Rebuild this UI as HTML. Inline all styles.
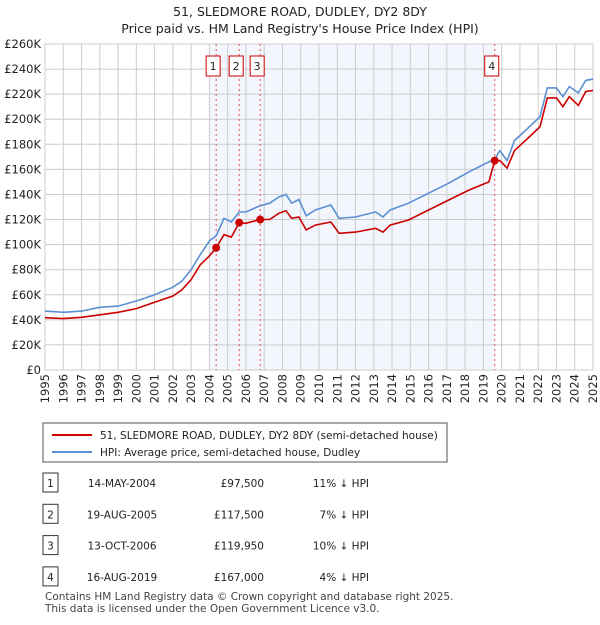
<!DOCTYPE html>
<html><head><meta charset="utf-8"><style>
body{margin:0;background:#fff;font-family:"Liberation Sans","DejaVu Sans",sans-serif;}
svg text{font-family:"DejaVu Sans","Liberation Sans",sans-serif;}
</style></head><body>
<svg width="600" height="620" xmlns="http://www.w3.org/2000/svg">
<text x="300" y="16" text-anchor="middle" font-size="12.5" fill="#222">51, SLEDMORE ROAD, DUDLEY, DY2 8DY</text>
<text x="300" y="33" text-anchor="middle" font-size="12.5" fill="#222">Price paid vs. HM Land Registry's House Price Index (HPI)</text>
<g id="plot"></g>
<g id="legend">
<rect x="43" y="423" width="404" height="39" fill="#fff" stroke="#555"/>
<line x1="52" y1="435" x2="92" y2="435" stroke="#cc0000" stroke-width="2"/>
<text x="100" y="439" font-size="10.5" fill="#222">51, SLEDMORE ROAD, DUDLEY, DY2 8DY (semi-detached house)</text>
<line x1="52" y1="452" x2="92" y2="452" stroke="#5b8fd4" stroke-width="2"/>
<text x="100" y="456" font-size="10.5" fill="#222">HPI: Average price, semi-detached house, Dudley</text>
</g>
<g id="table" font-size="10.5" fill="#222"></g>
<text x="45" y="600" font-size="10.5" fill="#444">Contains HM Land Registry data © Crown copyright and database right 2025.</text>
<text x="45" y="612" font-size="10.5" fill="#444">This data is licensed under the Open Government Licence v3.0.</text>
</svg>
<script>
const hpiYears=[1995,1996,1997,1998,1999,2000,2001,2002,2002.5,2003,2003.5,2004,2004.37,2004.8,2005.2,2005.63,2006,2006.78,2007.3,2007.8,2008.2,2008.5,2008.9,2009.3,2009.8,2010.65,2011.1,2012.0,2013.1,2013.5,2013.9,2014.9,2016.0,2017.1,2018.2,2019.3,2019.62,2019.9,2020.3,2020.7,2021.3,2022.1,2022.5,2023.0,2023.35,2023.7,2024.2,2024.6,2025.0];
const hpiValues=[47,46,47,50,51,55,60,66,71,80,92,103,107,121,118,126,126,131,133,138,140,133,136,123,127.6,131.6,121,122,126,122,127.6,133,141,149,158,166,168,175,167,183,191,202,225,225,218,226,221,231,232];
const priceValues=[41.7,41,42,44,46,49,54,59,64,72,84,91,97.5,108,106,117.5,117,120,120,125,127,121,122,111.7,115.6,118,109,110,113,110,115.6,119.6,127.6,135.6,143.5,150,167,167,161,175,183,194,217,217,210,218,211,222,223];
const saleLabels=["1","2","3","4"];
const saleYears=[2004.37,2005.63,2006.78,2019.62];
const salePrices=[97.5,117.5,119.95,167];
const saleDates=["14-MAY-2004","19-AUG-2005","13-OCT-2006","16-AUG-2019"];
const salePriceText=["£97,500","£117,500","£119,950","£167,000"];
const saleDiff=["11% ↓ HPI","7% ↓ HPI","10% ↓ HPI","4% ↓ HPI"];
const yTicks=[0,20,40,60,80,100,120,140,160,180,200,220,240,260];
const xTicks=[1995,1996,1997,1998,1999,2000,2001,2002,2003,2004,2005,2006,2007,2008,2009,2010,2011,2012,2013,2014,2015,2016,2017,2018,2019,2020,2021,2022,2023,2024,2025];
const L=45,R=593,T=44,B=370;
const xs=y=>L+(y-1995)/30*(R-L);
const ys=v=>B-v/260*(B-T);
const NS="http://www.w3.org/2000/svg";
const plot=document.getElementById('plot');
function mk(tag,attrs,parent){const e=document.createElementNS(NS,tag);for(const k in attrs)e.setAttribute(k,attrs[k]);(parent||plot).appendChild(e);return e;}
mk('rect',{x:L,y:T,width:R-L,height:B-T,fill:'#fff',stroke:'#ccc'});
const sh=mk('rect',{x:xs(2004),y:T,width:xs(saleYears[3])-xs(2004),height:B-T,fill:'#eef3fc',opacity:0.7});


yTicks.forEach(v=>{
 mk('line',{x1:L,x2:R,y1:ys(v),y2:ys(v),stroke:'#ccc'});
 const t=mk('text',{x:L-4,y:ys(v)+4,'text-anchor':'end','font-size':11.5,fill:'#222'});t.textContent=v==0?'£0':'£'+v+'K';
 
 
});
xTicks.forEach(yr=>{
 mk('line',{x1:xs(yr),x2:xs(yr),y1:T,y2:B,stroke:'#ccc'});
 const t=mk('text',{x:0,y:0,'text-anchor':'end','font-size':11.5,fill:'#222',transform:`translate(${xs(yr)+4},${B+4}) rotate(-90)`});t.textContent=yr;
 
 
});
saleYears.forEach((yr,i)=>{
 const l=mk('line',{x1:xs(yr),x2:xs(yr),y1:T,y2:B,stroke:'#e05050','stroke-dasharray':'2,3'});
 
 
 const bx=xs(yr)-3;
 const r=mk('rect',{x:bx-7,y:56,width:14,height:20,fill:'#fff',stroke:'#cc0000'});
 
 
 const t=mk('text',{x:bx,y:70,'text-anchor':'middle','font-size':11,fill:'#222'});t.textContent=saleLabels[i];
});
const hp=hpiYears.map((y,i)=>(i?'L':'M')+xs(y).toFixed(1)+','+ys(hpiValues[i]).toFixed(1)).join('');
const hl=mk('path',{d:hp,fill:'none',stroke:'#5b8fd4','stroke-width':1.6});


const pp=hpiYears.map((y,i)=>(i?'L':'M')+xs(y).toFixed(1)+','+ys(priceValues[i]).toFixed(1)).join('');
const pl=mk('path',{d:pp,fill:'none',stroke:'#cc0000','stroke-width':1.6});


saleYears.forEach((yr,i)=>{
 const c=mk('circle',{cx:xs(yr),cy:ys(salePrices[i]),r:4,fill:'#cc0000'});
 
 
});
const tb=document.getElementById('table');
saleLabels.forEach((lab,i)=>{
 const y=484+i*31.3;
 const r=mk('rect',{x:43,y:y-11,width:15,height:19,fill:'#fff',stroke:'#333'},tb);
 
 
 let t=mk('text',{x:50.5,y:y+3,'text-anchor':'middle','font-size':10.5},tb);t.textContent=lab;
 t=mk('text',{x:122,y:y+3,'text-anchor':'middle','font-size':10.5},tb);t.textContent=saleDates[i];
 
 
 t=mk('text',{x:264,y:y+3,'text-anchor':'end','font-size':10.5},tb);t.textContent=salePriceText[i];
 
 
 t=mk('text',{x:369,y:y+3,'text-anchor':'end','font-size':10.5},tb);t.textContent=saleDiff[i];
 
 
});
</script>
</body></html>
